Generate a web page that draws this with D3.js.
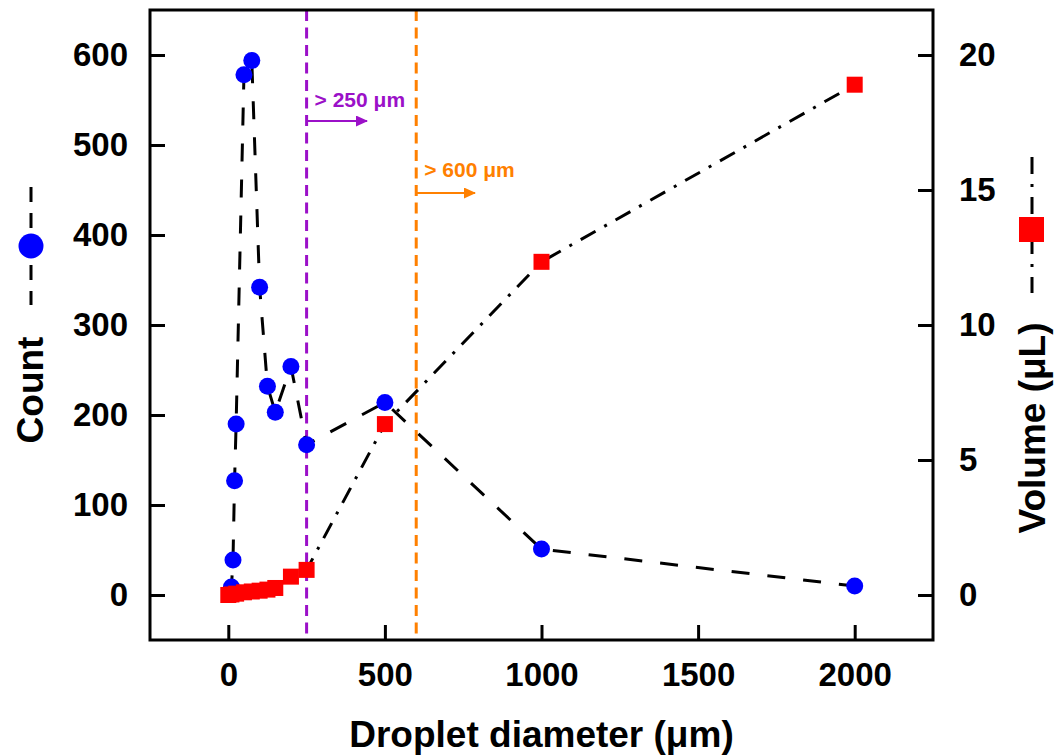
<!DOCTYPE html>
<html>
<head>
<meta charset="utf-8">
<script src="https://cdn.jsdelivr.net/npm/d3@7"></script>
<style>
  body { margin: 0; background: #fff; }
  text { font-family: "Liberation Sans", Arial, sans-serif; font-weight: bold; }
</style>
</head>
<body>
<svg id="display"></svg>
<script>
// droplet diameter (um) -> count
const countDiam = [5, 10, 15, 20, 25, 50, 75, 100, 125, 150, 200, 250, 500, 1000, 2000]
const countVals = [2, 9, 39, 127, 190, 578, 594, 342, 232, 203, 254, 167, 214, 51, 10]
// droplet diameter (um) -> volume (uL)
const volDiam = [0, 10, 25, 50, 75, 100, 125, 150, 200, 250, 500, 1000, 2000]
const volVals = [0, 0.02, 0.05, 0.1, 0.13, 0.16, 0.2, 0.26, 0.68, 0.93, 6.33, 12.34, 18.9]
const xTicks = [0, 500, 1000, 1500, 2000]
const countTicks = [0, 100, 200, 300, 400, 500, 600]
const volTicks = [0, 5, 10, 15, 20]
const cutoffs = [
  { x: 250, label: '> 250 μm', color: '#9b10c8', ty: 107, ay: 121, ax: 367 },
  { x: 600, label: '> 600 μm', color: '#ff8000', ty: 177, ay: 193, ax: 475 }
]

let svg = d3.select('#display')
const width = 1054
const height = 756
const padL = 150, padR = 933, padT = 10, padB = 640
svg.attr('width', width).attr('height', height)

const xScale = d3.scaleLinear().domain([-250, 2250]).range([padL, padR])
const yCount = d3.scaleLinear().domain([-50, 650]).range([padB, padT])
const yVol = d3.scaleLinear().domain([-50 / 30, 650 / 30]).range([padB, padT])

let defs = svg.append('defs')
cutoffs.forEach((c, i) => {
  defs.append('marker')
    .attr('id', 'arrow' + i).attr('viewBox', '0 0 12 11').attr('refX', 11).attr('refY', 5.5)
    .attr('markerUnits', 'userSpaceOnUse')
    .attr('markerWidth', 12).attr('markerHeight', 11).attr('orient', 'auto')
    .append('path').attr('d', 'M0,0 L12,5.5 L0,11 z').attr('fill', c.color)
})

// cutoff lines
cutoffs.forEach((c, i) => {
  svg.append('line')
    .attr('x1', xScale(c.x)).attr('x2', xScale(c.x))
    .attr('y1', padT).attr('y2', padB)
    .attr('stroke', c.color).attr('stroke-width', 3)
    .attr('stroke-dasharray', '11,6.5')
  svg.append('text')
    .attr('x', xScale(c.x) + 8).attr('y', c.ty)
    .attr('font-size', 21).attr('fill', c.color)
    .text(c.label)
  svg.append('line')
    .attr('x1', xScale(c.x)).attr('x2', c.ax)
    .attr('y1', c.ay).attr('y2', c.ay)
    .attr('stroke', c.color).attr('stroke-width', 2)
    .attr('marker-end', 'url(#arrow' + i + ')')
})

const countData = countDiam.map((d, i) => [d, countVals[i]])
const volData = volDiam.map((d, i) => [d, volVals[i]])

svg.append('path')
  .datum(countData)
  .attr('d', d3.line().x(d => xScale(d[0])).y(d => yCount(d[1])))
  .attr('fill', 'none').attr('stroke', 'black').attr('stroke-width', 3)
  .attr('stroke-dasharray', '18,18')

svg.append('path')
  .datum(volData)
  .attr('d', d3.line().x(d => xScale(d[0])).y(d => yVol(d[1])))
  .attr('fill', 'none').attr('stroke', 'black').attr('stroke-width', 3)
  .attr('stroke-dasharray', '17,10,3,10')

svg.selectAll('circle.cnt')
  .data(countData)
  .enter()
  .append('circle')
  .attr('class', 'cnt')
  .attr('cx', d => xScale(d[0]))
  .attr('cy', d => yCount(d[1]))
  .attr('r', 8.5)
  .attr('fill', '#0000ff')

svg.selectAll('rect.vol')
  .data(volData)
  .enter()
  .append('rect')
  .attr('class', 'vol')
  .attr('x', d => xScale(d[0]) - 8)
  .attr('y', d => yVol(d[1]) - 8)
  .attr('width', 16).attr('height', 16)
  .attr('fill', '#ff0000')

// frame
svg.append('rect')
  .attr('x', padL).attr('y', padT)
  .attr('width', padR - padL).attr('height', padB - padT)
  .attr('fill', 'none').attr('stroke', 'black').attr('stroke-width', 3)

// axes
const xAxis = d3.axisBottom(xScale).tickValues(xTicks).tickFormat(d3.format('d')).tickSize(-15).tickPadding(23)
const yAxisL = d3.axisLeft(yCount).tickValues(countTicks).tickFormat(d3.format('d')).tickSize(-15).tickPadding(22)
const yAxisR = d3.axisRight(yVol).tickValues(volTicks).tickFormat(d3.format('d')).tickSize(-15).tickPadding(26)

function styleAxis(g) {
  g.select('.domain').remove()
  g.attr('font-size', null).attr('font-family', null)
  g.selectAll('.tick line').attr('stroke', 'black').attr('stroke-width', 3)
  g.selectAll('.tick text').attr('font-size', 33).attr('fill', 'black')
}

svg.append('g').attr('transform', 'translate(0,' + padB + ')').call(xAxis).call(styleAxis)
svg.append('g').attr('transform', 'translate(' + padL + ',0)').call(yAxisL).call(styleAxis)
svg.append('g').attr('transform', 'translate(' + padR + ',0)').call(yAxisR).call(styleAxis)

// titles
svg.append('text')
  .attr('x', xScale(1000)).attr('y', 747)
  .attr('text-anchor', 'middle').attr('font-size', 37)
  .text('Droplet diameter (μm)')

svg.append('text')
  .attr('transform', 'translate(43,390) rotate(-90)')
  .attr('text-anchor', 'middle').attr('font-size', 37)
  .text('Count')

svg.append('text')
  .attr('transform', 'translate(1045,428) rotate(-90)')
  .attr('text-anchor', 'middle').attr('font-size', 37)
  .text('Volume (μL)')

// legend symbols
svg.append('line')
  .attr('x1', 31).attr('x2', 31).attr('y1', 187).attr('y2', 305)
  .attr('stroke', 'black').attr('stroke-width', 3).attr('stroke-dasharray', '15,11')
svg.append('circle').attr('cx', 31).attr('cy', 246).attr('r', 12.5).attr('fill', '#0000ff')

svg.append('line')
  .attr('x1', 1032).attr('x2', 1032).attr('y1', 157).attr('y2', 293)
  .attr('stroke', 'black').attr('stroke-width', 3).attr('stroke-dasharray', '17,10,3,10')
svg.append('rect').attr('x', 1019).attr('y', 217).attr('width', 25).attr('height', 25).attr('fill', '#ff0000')
</script>
</body>
</html>
